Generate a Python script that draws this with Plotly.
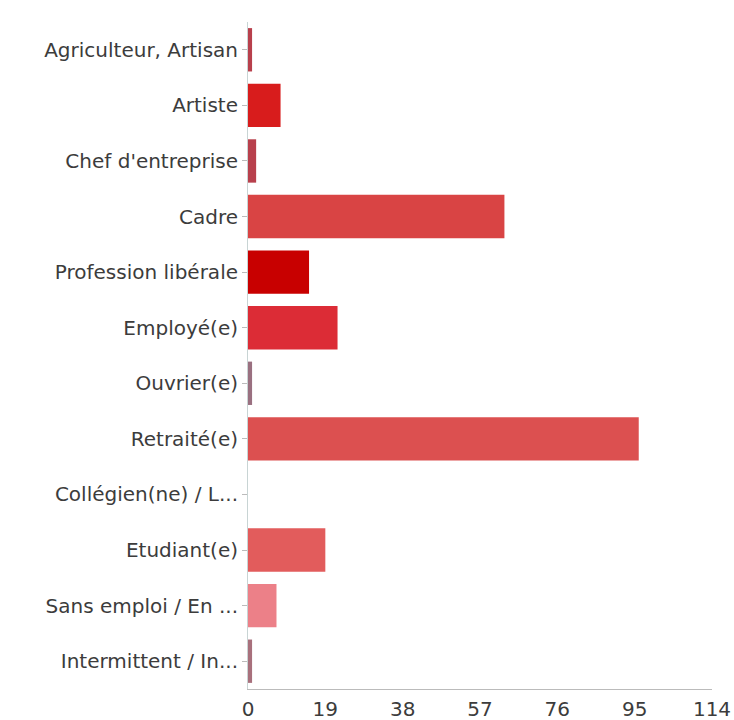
import plotly.graph_objects as go

categories = [
    "Agriculteur, Artisan",
    "Artiste",
    "Chef d'entreprise",
    "Cadre",
    "Profession libérale",
    "Employé(e)",
    "Ouvrier(e)",
    "Retraité(e)",
    "Collégien(ne) / L...",
    "Etudiant(e)",
    "Sans emploi / En ...",
    "Intermittent / In...",
]
counts = [1, 8, 2, 63, 15, 22, 1, 96, 0, 19, 7, 1]
bar_colors = [
    "#b8404c", "#d81c1c", "#b8404c", "#d94444",
    "#c80000", "#dc2c36", "#9a7080", "#dc5050",
    "#dc5050", "#e25c5c", "#ec8088", "#a8707c",
]
x_ticks = [0, 19, 38, 57, 76, 95, 114]

label_font = dict(family="DejaVu Sans, Verdana, sans-serif", size=20, color="#3c3c3c")

fig = go.Figure(
    go.Bar(
        x=counts,
        y=categories,
        orientation="h",
        marker=dict(color=bar_colors, line=dict(width=0)),
        width=0.78,
    )
)

fig.update_layout(
    width=734,
    height=720,
    margin=dict(l=248, r=22, t=22, b=31),
    paper_bgcolor="white",
    plot_bgcolor="white",
    showlegend=False,
    font=label_font,
)
fig.update_xaxes(
    range=[0, 114],
    tickvals=x_ticks,
    ticktext=[str(v) for v in x_ticks],
    showgrid=False,
    zeroline=False,
    showline=True,
    linecolor="#bbbbbb",
    linewidth=1,
    ticks="",
    ticklabelstandoff=2,
    tickfont=label_font,
    automargin=False,
    fixedrange=True,
)
fig.update_yaxes(
    categoryorder="array",
    categoryarray=categories,
    autorange="reversed",
    showgrid=False,
    showline=True,
    linecolor="#c8d4d4",
    linewidth=1,
    ticks="outside",
    ticklen=5,
    tickcolor="#bbbbbb",
    tickfont=label_font,
    automargin=False,
    fixedrange=True,
)

fig.write_html("out.html")
